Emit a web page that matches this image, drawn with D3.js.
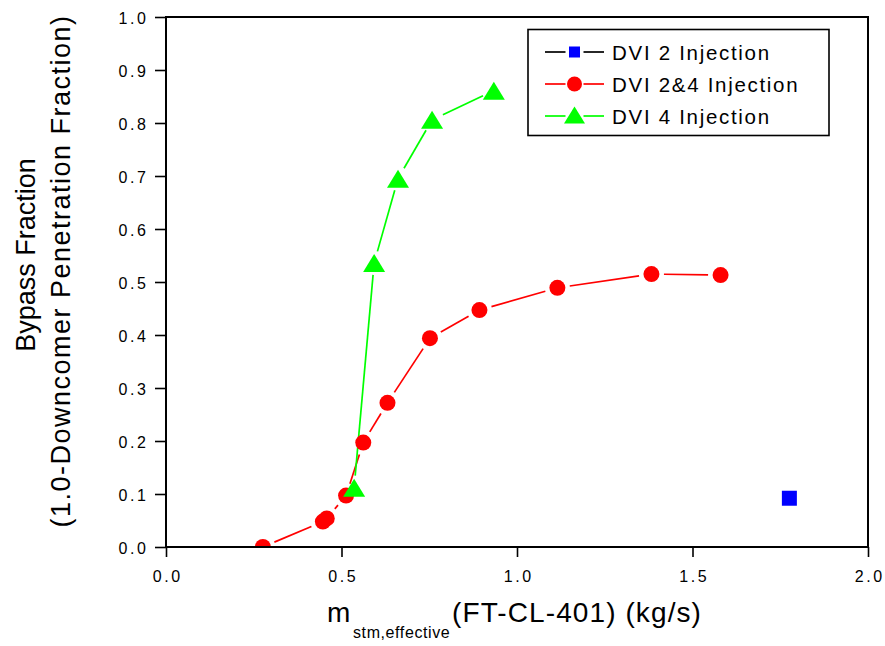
<!DOCTYPE html>
<html>
<head>
<meta charset="utf-8">
<script src="https://cdn.jsdelivr.net/npm/d3@7"></script>
<style>
  html, body { margin: 0; padding: 0; background: #fff; }
  svg { display: block; }
  text { font-family: "Liberation Sans", Arial, Helvetica, sans-serif; fill: #000; }
</style>
</head>
<body>
<svg id="chart" width="885" height="646"></svg>
<script>
// ---- data ----
const seriesNames = ["DVI 2 Injection", "DVI 2&4 Injection", "DVI 4 Injection"];

const dvi2X = [1.776];
const dvi2Y = [0.092];

const dvi24X = [0.276, 0.447, 0.458, 0.513, 0.562, 0.631, 0.752, 0.893, 1.115, 1.383, 1.580];
const dvi24Y = [0.000, 0.048, 0.054, 0.097, 0.197, 0.272, 0.394, 0.447, 0.489, 0.515, 0.513];

const dvi4X = [0.536, 0.593, 0.661, 0.758, 0.934];
const dvi4Y = [0.112, 0.536, 0.695, 0.806, 0.861];

const xTicks = [0, 0.5, 1.0, 1.5, 2.0];
const xTickLabels = ["0.0", "0.5", "1.0", "1.5", "2.0"];
const xMinorTicks = [0.25, 0.75, 1.25, 1.75];
const yTicks = [0, 0.1, 0.2, 0.3, 0.4, 0.5, 0.6, 0.7, 0.8, 0.9, 1.0];
const yTickLabels = ["0.0", "0.1", "0.2", "0.3", "0.4", "0.5", "0.6", "0.7", "0.8", "0.9", "1.0"];
const yMinorTicks = [0.05, 0.15, 0.25, 0.35, 0.45, 0.55, 0.65, 0.75, 0.85, 0.95];

const yTitle1 = "Bypass Fraction";
const yTitle2 = "(1.0-Downcomer Penetration Fraction)";
const xTitleMain = "m";
const xTitleSub = "stm,effective";
const xTitleRest = "(FT-CL-401) (kg/s)";

// ---- layout ----
const W = 885, H = 646;
const plot = { left: 166, top: 17, right: 868, bottom: 547 };
const svg = d3.select("#chart");

const x = d3.scaleLinear().domain([0, 2]).range([plot.left, plot.right]);
const y = d3.scaleLinear().domain([0, 1]).range([plot.bottom, plot.top]);

const colors = { dvi2: "#0000ff", dvi2Line: "#000000", dvi24: "#ff0000", dvi4: "#00ff00" };

svg.append("defs").append("clipPath").attr("id", "plotClip")
  .append("rect")
  .attr("x", plot.left).attr("y", plot.top)
  .attr("width", plot.right - plot.left).attr("height", plot.bottom - plot.top);

const dataLayer = svg.append("g").attr("clip-path", "url(#plotClip)");

// connecting lines stop short of each marker, leaving a small gap
const line = d3.line();
function drawGappedLine(xs, ys, color, gap) {
  for (let i = 0; i < xs.length - 1; i++) {
    const x0 = x(xs[i]), y0 = y(ys[i]), x1 = x(xs[i + 1]), y1 = y(ys[i + 1]);
    const dx = x1 - x0, dy = y1 - y0, d = Math.hypot(dx, dy);
    if (d <= 2 * gap + 1) continue;
    const ux = dx / d, uy = dy / d;
    dataLayer.append("path")
      .attr("d", line([[x0 + ux * gap, y0 + uy * gap], [x1 - ux * gap, y1 - uy * gap]]))
      .attr("fill", "none").attr("stroke", color).attr("stroke-width", 1.7);
  }
}

function trianglePath(cx, cy, w, h) {
  const p = d3.path();
  p.moveTo(cx, cy - h / 2);
  p.lineTo(cx + w / 2, cy + h / 2);
  p.lineTo(cx - w / 2, cy + h / 2);
  p.closePath();
  return p.toString();
}

drawGappedLine(dvi24X, dvi24Y, colors.dvi24, 12.5);
drawGappedLine(dvi4X, dvi4Y, colors.dvi4, 12);

// DVI 2&4 circles
dataLayer.selectAll("circle.dvi24")
  .data(dvi24X.map((v, i) => [v, dvi24Y[i]]))
  .join("circle")
  .attr("class", "dvi24")
  .attr("cx", d => x(d[0])).attr("cy", d => y(d[1]))
  .attr("r", 8).attr("fill", colors.dvi24);

// DVI 4 triangles
dataLayer.selectAll("path.dvi4")
  .data(dvi4X.map((v, i) => [v, dvi4Y[i]]))
  .join("path")
  .attr("class", "dvi4")
  .attr("d", d => trianglePath(x(d[0]), y(d[1]), 22, 18))
  .attr("fill", colors.dvi4);

// DVI 2 squares
const sq = 15;
dataLayer.selectAll("rect.dvi2")
  .data(dvi2X.map((v, i) => [v, dvi2Y[i]]))
  .join("rect")
  .attr("class", "dvi2")
  .attr("x", d => x(d[0]) - sq / 2).attr("y", d => y(d[1]) - sq / 2)
  .attr("width", sq).attr("height", sq)
  .attr("fill", colors.dvi2);

// ---- axes ----
const tickFont = 16, tickLs = 2.6;

const xAxisG = svg.append("g").attr("transform", `translate(0,${plot.bottom})`);
xAxisG.call(d3.axisBottom(x).tickValues(xMinorTicks).tickSize(7).tickSizeOuter(0).tickFormat(""));
xAxisG.call(d3.axisBottom(x).tickValues(xTicks).tickSize(10).tickSizeOuter(0)
  .tickFormat((d, i) => xTickLabels[i]));
xAxisG.selectAll(".domain").remove();
xAxisG.selectAll("line").attr("stroke", "#000").attr("stroke-width", 1.6);
xAxisG.selectAll("text")
  .attr("y", 35).attr("dy", 0).attr("dx", tickLs / 2)
  .attr("font-size", tickFont).attr("letter-spacing", tickLs)
  .attr("font-family", null).attr("fill", "#000");

const yAxisG = svg.append("g").attr("transform", `translate(${plot.left},0)`);
yAxisG.call(d3.axisLeft(y).tickValues(yMinorTicks).tickSize(6).tickSizeOuter(0).tickFormat(""));
yAxisG.call(d3.axisLeft(y).tickValues(yTicks).tickSize(11).tickSizeOuter(0)
  .tickFormat((d, i) => yTickLabels[i]));
yAxisG.selectAll(".domain").remove();
yAxisG.selectAll("line").attr("stroke", "#000").attr("stroke-width", 1.6);
yAxisG.selectAll("text")
  .attr("x", -(plot.left - 146 - tickLs)).attr("dy", "0.38em")
  .attr("font-size", tickFont).attr("letter-spacing", tickLs)
  .attr("font-family", null).attr("fill", "#000");

// frame
svg.append("rect")
  .attr("x", plot.left).attr("y", plot.top)
  .attr("width", plot.right - plot.left).attr("height", plot.bottom - plot.top)
  .attr("fill", "none").attr("stroke", "#000").attr("stroke-width", 2);

// ---- titles ----
svg.append("text")
  .attr("transform", `translate(35,255) rotate(-90)`)
  .attr("text-anchor", "middle").attr("font-size", 27)
  .text(yTitle1);
svg.append("text")
  .attr("transform", `translate(69.5,271) rotate(-90)`)
  .attr("text-anchor", "middle").attr("font-size", 27).attr("letter-spacing", 1.5)
  .text(yTitle2);

svg.append("text").attr("x", 327).attr("y", 622).attr("font-size", 28).text(xTitleMain);
svg.append("text").attr("x", 353).attr("y", 638).attr("font-size", 16).attr("letter-spacing", 0.6).text(xTitleSub);
svg.append("text").attr("x", 452).attr("y", 622).attr("font-size", 28).attr("letter-spacing", 1.1).text(xTitleRest);

// ---- legend ----
const legend = svg.append("g");
legend.append("rect")
  .attr("x", 528).attr("y", 29.5).attr("width", 301).attr("height", 106)
  .attr("fill", "#fff").attr("stroke", "#000").attr("stroke-width", 1.6);

const legendRows = [
  { name: seriesNames[0], line: colors.dvi2Line, fill: colors.dvi2, shape: "square", cy: 52 },
  { name: seriesNames[1], line: colors.dvi24, fill: colors.dvi24, shape: "circle", cy: 84 },
  { name: seriesNames[2], line: colors.dvi4, fill: colors.dvi4, shape: "triangle", cy: 116 }
];
const lx0 = 545, lx1 = 604, lmx = 574.5;
legendRows.forEach(r => {
  legend.append("path").attr("d", line([[lx0, r.cy], [lmx - 9, r.cy]]))
    .attr("stroke", r.line).attr("stroke-width", 1.7);
  legend.append("path").attr("d", line([[lmx + 9, r.cy], [lx1, r.cy]]))
    .attr("stroke", r.line).attr("stroke-width", 1.7);
  if (r.shape === "square") {
    legend.append("rect").attr("x", lmx - 5.5).attr("y", r.cy - 5.5)
      .attr("width", 11).attr("height", 11).attr("fill", r.fill);
  } else if (r.shape === "circle") {
    legend.append("circle").attr("cx", lmx).attr("cy", r.cy).attr("r", 7.5).attr("fill", r.fill);
  } else {
    legend.append("path").attr("d", trianglePath(lmx, r.cy - 1, 21, 17)).attr("fill", r.fill);
  }
  legend.append("text").attr("x", 612).attr("y", r.cy + 7.5)
    .attr("font-size", 20.5).attr("letter-spacing", 1.7).text(r.name);
});
</script>
</body>
</html>
